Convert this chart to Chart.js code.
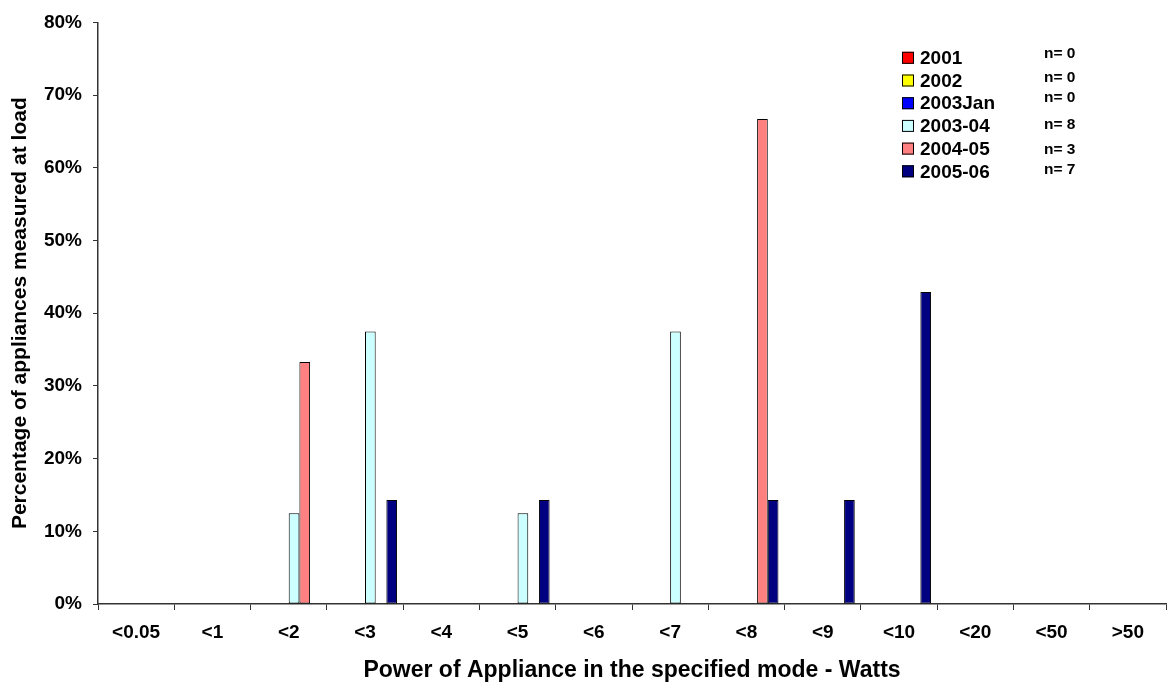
<!DOCTYPE html>
<html>
<head>
<meta charset="utf-8">
<script src="https://cdn.jsdelivr.net/npm/chart.js@4.4.0/dist/chart.umd.min.js"></script>
<style>
  body { margin: 0; background: #fff; }
  #wrap { width: 1167px; height: 684px; }
</style>
</head>
<body>
<div id="wrap"><canvas id="myChart" width="1167" height="684"></canvas></div>
<script>
const categories = ["<0.05", "<1", "<2", "<3", "<4", "<5", "<6", "<7", "<8", "<9", "<10", "<20", "<50", ">50"];
const years = ["2001", "2002", "2003Jan", "2003-04", "2004-05", "2005-06"];
const sampleCounts = [0, 0, 0, 8, 3, 7];

// percentages per power band
const v2001 = [0, 0, 0, 0, 0, 0, 0, 0, 0, 0, 0, 0, 0, 0];
const v2002 = [0, 0, 0, 0, 0, 0, 0, 0, 0, 0, 0, 0, 0, 0];
const v2003Jan = [0, 0, 0, 0, 0, 0, 0, 0, 0, 0, 0, 0, 0, 0];
const v2003_04 = [0, 0, 12.5, 37.5, 0, 12.5, 0, 37.5, 0, 0, 0, 0, 0, 0];
const v2004_05 = [0, 0, 33.3, 0, 0, 0, 0, 0, 66.7, 0, 0, 0, 0, 0];
const v2005_06 = [0, 0, 0, 14.3, 0, 14.3, 0, 0, 14.3, 14.3, 42.9, 0, 0, 0];

const yTicks = [0, 10, 20, 30, 40, 50, 60, 70, 80];

const colors = ["#FF0000", "#FFFF00", "#0000FF", "#CCFFFF", "#FF8080", "#000080"];
const seriesValues = [v2001, v2002, v2003Jan, v2003_04, v2004_05, v2005_06];

Chart.defaults.font.family = '"Liberation Sans", Arial, sans-serif';
Chart.defaults.color = "#000";

// legend drawn inside the plot, with the n= column beside it
const nOffsets = [-3.8, -3.2, -5.9, -1, 1, -1.4];
const boxLegend = {
  id: "boxLegend",
  afterDraw(chart) {
    const ctx = chart.ctx;
    ctx.save();
    for (let i = 0; i < years.length; i++) {
      const y = 57.8 + i * 22.7;
      ctx.fillStyle = colors[i];
      ctx.fillRect(902, y - 6, 12, 12);
      ctx.strokeStyle = "#000";
      ctx.lineWidth = 1;
      ctx.strokeRect(902.5, y - 5.5, 11, 11);
      ctx.fillStyle = "#000";
      ctx.textBaseline = "middle";
      ctx.textAlign = "left";
      ctx.font = 'bold 19px "Liberation Sans", Arial, sans-serif';
      ctx.fillText(years[i], 920, y + 1);
      ctx.font = 'bold 15.5px "Liberation Sans", Arial, sans-serif';
      ctx.fillText("n= " + sampleCounts[i], 1044, y + nOffsets[i]);
    }
    ctx.restore();
  }
};

const ctx = document.getElementById("myChart");
const myChart = new Chart(ctx, {
  type: "bar",
  data: {
    labels: categories,
    datasets: years.map((yr, i) => ({
      label: yr,
      data: seriesValues[i],
      backgroundColor: colors[i],
      borderColor: "#000",
      borderWidth: 1,
      borderSkipped: false,
      barPercentage: 1,
      categoryPercentage: 0.84,
    })),
  },
  options: {
    responsive: false,
    animation: false,
    devicePixelRatio: 1,
    layout: { padding: { left: 8, right: 1, top: 18, bottom: 0 } },
    plugins: {
      legend: { display: false },
      tooltip: { enabled: false },
    },
    scales: {
      x: {
        grid: {
          offset: true,
          drawOnChartArea: false,
          tickLength: 6,
          color: "#333",
        },
        border: { color: "#333", width: 1.5 },
        ticks: { font: { size: 19, weight: "bold" }, padding: 11, maxRotation: 0 },
        title: {
          display: true,
          text: "Power of Appliance in the specified mode - Watts",
          font: { size: 23, weight: "bold" },
          padding: { top: 4, bottom: 0 },
        },
        afterFit(scale) {
          scale.height = 80;
        },
      },
      y: {
        min: 0,
        max: 80,
        afterBuildTicks(scale) {
          scale.ticks = yTicks.map((v) => ({ value: v }));
        },
        grid: {
          drawOnChartArea: false,
          tickLength: 5,
          color: "#333",
        },
        border: { color: "#333", width: 1.5 },
        ticks: {
          font: { size: 19, weight: "bold" },
          padding: 11,
          callback: (v) => v + "%",
        },
        title: {
          display: true,
          text: "Percentage of appliances measured at load",
          font: { size: 21, weight: "bold" },
          padding: { top: 0, bottom: 4 },
        },
        afterFit(scale) {
          scale.width = 90;
        },
      },
    },
  },
  plugins: [boxLegend],
});
</script>
</body>
</html>
